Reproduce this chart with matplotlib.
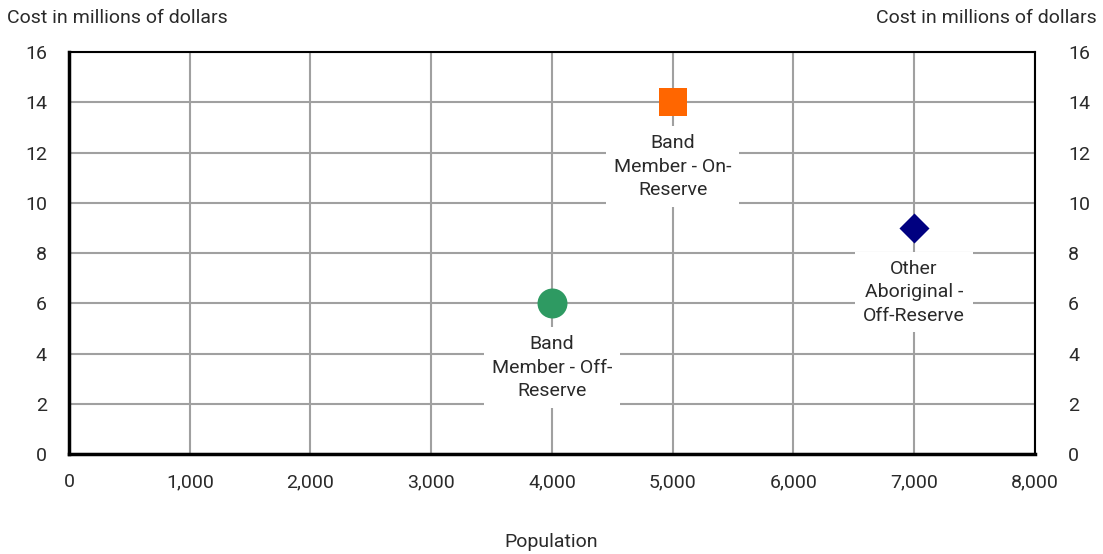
import matplotlib.pyplot as plt
from matplotlib.ticker import FuncFormatter

plt.rcParams['font.family'] = ['Roboto', 'DejaVu Sans']

# Data
labels = ['Band\nMember - Off-\nReserve', 'Band\nMember - On-\nReserve', 'Other\nAboriginal -\nOff-Reserve']
population = [4000, 5000, 7000]
cost = [6, 14, 9]
markers = ['o', 's', 'D']
colors = ['#2e9a62', '#ff6600', '#000080']
sizes = [466, 400, 234]

text_color = '#2a2a2a'
fs = 14

fig = plt.figure(figsize=(11.03, 5.54), dpi=100)
ax = fig.add_axes([0.0626, 0.1805, 0.8755, 0.7255])

for x, y, m, c, s, lab in zip(population, cost, markers, colors, sizes, labels):
    ax.scatter(x, y, marker=m, s=s, color=c, zorder=4, linewidths=0)
    ax.annotate(lab, (x, y), xytext=(0, -23), textcoords='offset points',
                ha='center', va='top', fontsize=fs, color=text_color,
                linespacing=1.38, zorder=3,
                bbox=dict(boxstyle='square,pad=0.4', fc='white', ec='none'))

ax.set_xlim(0, 8000)
ax.set_ylim(0, 16)
ax.set_xticks(range(0, 8001, 1000))
ax.set_yticks(range(0, 17, 2))
ax.xaxis.set_major_formatter(FuncFormatter(lambda v, p: f'{int(v):,}'))
ax.grid(True, color='#a0a0a0', linewidth=1.5, zorder=0)
ax.set_axisbelow(True)
ax.tick_params(length=0, labelsize=fs, labelcolor=text_color)
ax.tick_params(axis='y', pad=16)
ax.tick_params(axis='x', pad=14)

# right-hand copy of the value axis
ax2 = ax.twinx()
ax2.set_ylim(ax.get_ylim())
ax2.set_yticks(ax.get_yticks())
ax2.tick_params(length=0, labelsize=fs, labelcolor=text_color, pad=24)
for sp in ax2.spines.values():
    sp.set_visible(False)

ax.spines['left'].set_linewidth(2.5)
ax.spines['bottom'].set_linewidth(2.5)
ax.spines['top'].set_linewidth(1.5)
ax.spines['right'].set_linewidth(1.5)

fig.text(0.006, 0.967, 'Cost in millions of dollars', fontsize=fs, color=text_color, va='center')
fig.text(0.994, 0.967, 'Cost in millions of dollars', fontsize=fs, color=text_color, va='center', ha='right')
fig.text(0.5, 0.022, 'Population', fontsize=fs, color=text_color, ha='center', va='center')

plt.savefig('out.png', dpi=100)
